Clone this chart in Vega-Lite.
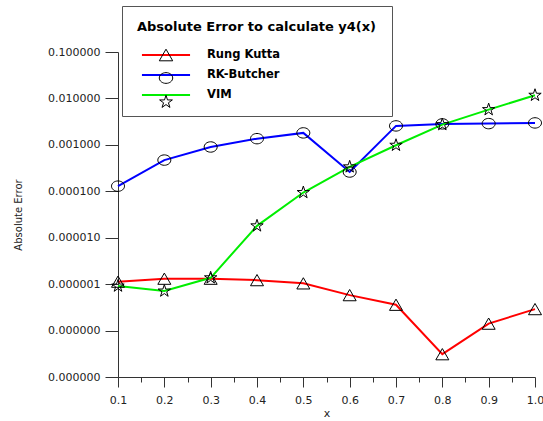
{
  "$schema": "https://vega.github.io/schema/vega-lite/v6.json",
  "width": 417,
  "height": 325,
  "autosize": {"type": "none"},
  "padding": {"left": 118, "top": 52, "right": 8, "bottom": 44},
  "background": "white",
  "config": {
    "view": {"stroke": null},
    "axis": {
      "grid": false,
      "domainColor": "#333",
      "tickColor": "#333",
      "labelColor": "#222",
      "titleColor": "#222",
      "labelFont": "DejaVu Sans",
      "titleFont": "DejaVu Sans",
      "labelFontSize": 11,
      "titleFontWeight": "normal",
      "labelFlush": false,
      "labelOverlap": false
    }
  },
  "data": {
    "values": [
      {"x": 0.1, "method": "Rung Kutta", "error": 1.13e-6},
      {"x": 0.2, "method": "Rung Kutta", "error": 1.31e-6},
      {"x": 0.3, "method": "Rung Kutta", "error": 1.31e-6},
      {"x": 0.4, "method": "Rung Kutta", "error": 1.22e-6},
      {"x": 0.5, "method": "Rung Kutta", "error": 1.04e-6},
      {"x": 0.6, "method": "Rung Kutta", "error": 5.8e-7},
      {"x": 0.7, "method": "Rung Kutta", "error": 3.6e-7},
      {"x": 0.8, "method": "Rung Kutta", "error": 3.1e-8},
      {"x": 0.9, "method": "Rung Kutta", "error": 1.41e-7},
      {"x": 1.0, "method": "Rung Kutta", "error": 2.9e-7},
      {"x": 0.1, "method": "RK-Butcher", "error": 1.29e-4},
      {"x": 0.2, "method": "RK-Butcher", "error": 4.7e-4},
      {"x": 0.3, "method": "RK-Butcher", "error": 9.0e-4},
      {"x": 0.4, "method": "RK-Butcher", "error": 1.36e-3},
      {"x": 0.5, "method": "RK-Butcher", "error": 1.81e-3},
      {"x": 0.6, "method": "RK-Butcher", "error": 2.6e-4},
      {"x": 0.7, "method": "RK-Butcher", "error": 2.56e-3},
      {"x": 0.8, "method": "RK-Butcher", "error": 2.83e-3},
      {"x": 0.9, "method": "RK-Butcher", "error": 2.87e-3},
      {"x": 1.0, "method": "RK-Butcher", "error": 2.97e-3},
      {"x": 0.1, "method": "VIM", "error": 9.1e-7},
      {"x": 0.2, "method": "VIM", "error": 7.1e-7},
      {"x": 0.3, "method": "VIM", "error": 1.37e-6},
      {"x": 0.4, "method": "VIM", "error": 1.8e-5},
      {"x": 0.5, "method": "VIM", "error": 9.4e-5},
      {"x": 0.6, "method": "VIM", "error": 3.36e-4},
      {"x": 0.7, "method": "VIM", "error": 9.8e-4},
      {"x": 0.8, "method": "VIM", "error": 2.73e-3},
      {"x": 0.9, "method": "VIM", "error": 5.74e-3},
      {"x": 1.0, "method": "VIM", "error": 1.17e-2}
    ]
  },
  "resolve": {"axis": {"x": "independent"}},
  "layer": [
    {
      "mark": {"type": "line", "strokeWidth": 2},
      "encoding": {
        "x": {
          "field": "x",
          "type": "quantitative",
          "scale": {"domain": [0.1, 1.0], "nice": false, "zero": false},
          "axis": {
            "orient": "bottom",
            "values": [0.1, 0.2, 0.3, 0.4, 0.5, 0.6, 0.7, 0.8, 0.9, 1.0],
            "format": ".1f",
            "tickSize": 10,
            "labelPadding": 7,
            "title": "x",
            "titleFontSize": 11,
            "titlePadding": 2
          }
        },
        "y": {
          "field": "error",
          "type": "quantitative",
          "scale": {"type": "log", "domain": [1e-8, 0.1], "nice": false},
          "axis": {
            "values": [1e-8, 1e-7, 1e-6, 1e-5, 1e-4, 1e-3, 1e-2, 1e-1],
            "format": ".6f",
            "tickSize": 13,
            "labelPadding": 5,
            "title": "Absolute Error",
            "titleFontSize": 10,
            "titlePadding": 24
          }
        },
        "color": {
          "field": "method",
          "type": "nominal",
          "scale": {
            "domain": ["Rung Kutta", "RK-Butcher", "VIM"],
            "range": ["#ff0000", "#0000ff", "#00ee00"]
          },
          "legend": {
            "title": "Absolute Error to calculate y4(x)      ",
            "orient": "none",
            "direction": "vertical",
            "legendX": 4,
            "legendY": -46,
            "padding": 15,
            "fillColor": "white",
            "strokeColor": "#555",
            "titleFont": "DejaVu Sans",
            "titleFontSize": 13,
            "titleFontWeight": "bold",
            "titleColor": "black",
            "titlePadding": 13.5,
            "titleLimit": 400,
            "labelFont": "DejaVu Sans",
            "labelFontSize": 11.5,
            "labelFontWeight": "bold",
            "labelColor": "black",
            "symbolType": "M-3.7,0L3.7,0",
            "symbolSize": 169,
            "symbolStrokeWidth": 2,
            "symbolFillColor": "transparent",
            "symbolOpacity": 1,
            "symbolOffset": 21.5,
            "labelOffset": 33.5,
            "rowPadding": 7
          }
        }
      }
    },
    {
      "mark": {"type": "point", "filled": false, "stroke": "black", "strokeWidth": 1, "size": 169, "opacity": 1},
      "encoding": {
        "x": {
          "field": "x",
          "type": "quantitative",
          "scale": {"domain": [0.1, 1.0], "nice": false, "zero": false},
          "axis": {
            "orient": "bottom",
            "values": [0.15, 0.25, 0.35, 0.45, 0.55, 0.65, 0.75, 0.85, 0.95],
            "labels": false,
            "domain": false,
            "tickSize": 5,
            "title": null
          }
        },
        "y": {
          "field": "error",
          "type": "quantitative",
          "scale": {"type": "log", "domain": [1e-8, 0.1], "nice": false},
          "axis": {
            "values": [1e-8, 1e-7, 1e-6, 1e-5, 1e-4, 1e-3, 1e-2, 1e-1],
            "format": ".6f",
            "tickSize": 13,
            "labelPadding": 5,
            "title": "Absolute Error",
            "titleFontSize": 10,
            "titlePadding": 24
          }
        },
        "shape": {
          "field": "method",
          "type": "nominal",
          "sort": null,
          "scale": {
            "range": [
              "triangle-up",
              "M-1,0 A1,0.8 0 1,0 1,0 A1,0.8 0 1,0 -1,0 Z",
              "M0,-1L0.225,-0.309L0.951,-0.309L0.363,0.118L0.588,0.809L0,0.382L-0.588,0.809L-0.363,0.118L-0.951,-0.309L-0.225,-0.309Z"
            ]
          },
          "legend": {
            "title": "Absolute Error to calculate y4(x)      ",
            "orient": "none",
            "direction": "vertical",
            "legendX": 4,
            "legendY": -46,
            "padding": 15,
            "titleFont": "DejaVu Sans",
            "titleFontSize": 13,
            "titleFontWeight": "bold",
            "titleColor": "transparent",
            "titlePadding": 13.5,
            "titleLimit": 400,
            "labelFont": "DejaVu Sans",
            "labelFontSize": 11.5,
            "labelFontWeight": "bold",
            "labelExpr": "''",
            "symbolSize": 180,
            "symbolStrokeWidth": 1,
            "symbolStrokeColor": "black",
            "symbolFillColor": "transparent",
            "symbolOpacity": 1,
            "symbolOffset": 21.5,
            "labelOffset": 33.5,
            "rowPadding": 7
          }
        }
      }
    }
  ]
}
